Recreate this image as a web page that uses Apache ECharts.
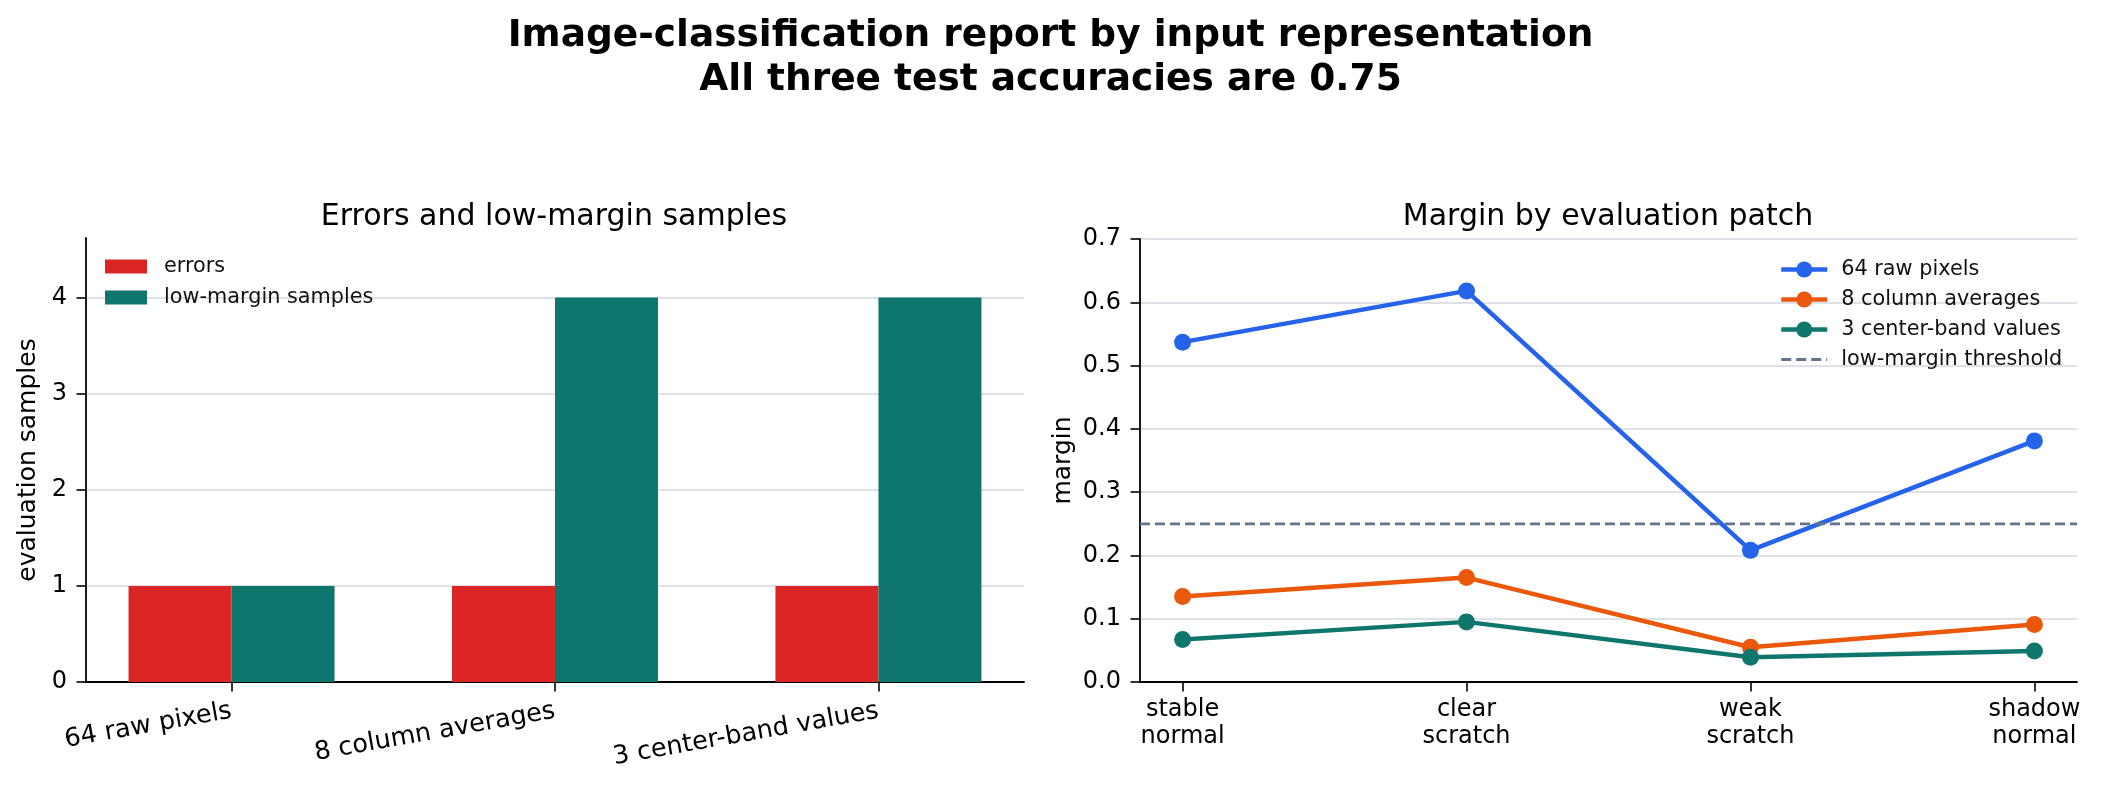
<!DOCTYPE html>
<html>
<head>
<meta charset="utf-8">
<script src="https://cdn.jsdelivr.net/npm/echarts@6/dist/echarts.min.js"></script>
<style>
  html, body { margin: 0; padding: 0; background: #fff; }
  #chart { width: 2101px; height: 787px; }
</style>
</head>
<body>
<div id="chart"></div>
<script>
var representations = ["64 raw pixels", "8 column averages", "3 center-band values"];
var errorCounts = [1, 1, 1];
var lowMarginCounts = [1, 4, 4];

var patches = ["stable\nnormal", "clear\nscratch", "weak\nscratch", "shadow\nnormal"];
var marginRaw = [0.537, 0.618, 0.208, 0.381];
var marginColumns = [0.135, 0.165, 0.055, 0.091];
var marginBand = [0.067, 0.095, 0.039, 0.049];
var threshold = 0.25;

var FONT = "DejaVu Sans";
var chart = echarts.init(document.getElementById("chart"), null, { renderer: "canvas" });

function pairs(values) {
    return values.map(function (v, i) { return [i, v]; });
}

var axisLineStyle = { color: "#000", width: 1.8 };
var tickStyle = { show: true, length: 9.5, lineStyle: { color: "#000", width: 1.6 } };
var gridLineStyle = { color: "#d3d8e0", width: 1.5 };
var tickFont = 24;

var option = {
    animation: false,
    backgroundColor: "#fff",
    title: [
        {
            text: "Image-classification report by input representation\nAll three test accuracies are 0.75",
            left: "center",
            top: 9,
            textStyle: { fontFamily: FONT, fontSize: 37.5, fontWeight: "bold", color: "#000", lineHeight: 44 },
        },
        {
            text: "Errors and low-margin samples",
            left: 549,
            textAlign: "center",
            top: 197,
            textStyle: { fontFamily: FONT, fontSize: 30, fontWeight: "normal", color: "#000", lineHeight: 30 },
        },
        {
            text: "Margin by evaluation patch",
            left: 1603,
            textAlign: "center",
            top: 197,
            textStyle: { fontFamily: FONT, fontSize: 30, fontWeight: "normal", color: "#000", lineHeight: 30 },
        },
    ],
    legend: [
        {
            data: ["errors", "low-margin samples"],
            left: 105,
            top: 256,
            padding: 0,
            orient: "vertical",
            icon: "rect",
            itemWidth: 42,
            itemHeight: 14,
            itemGap: 10,
            textStyle: { fontFamily: FONT, fontSize: 20.8, color: "#111", lineHeight: 14, padding: [0, 0, 0, 12] },
        },
        {
            data: [
                "64 raw pixels",
                "8 column averages",
                "3 center-band values",
                { name: "low-margin threshold", itemStyle: { opacity: 0 }, lineStyle: { width: 2.8 } },
            ],
            left: 1779,
            top: 259,
            padding: 0,
            orient: "vertical",
            itemWidth: 46,
            itemHeight: 20,
            itemGap: 9,
            lineStyle: { width: 4.5 },
            textStyle: { fontFamily: FONT, fontSize: 20.8, color: "#111", lineHeight: 20, padding: [0, 0, 0, 9] },
        },
    ],
    grid: [
        { left: 86, right: 1077, top: 238, bottom: 105 },
        { left: 1140, right: 24, top: 239, bottom: 105 },
    ],
    xAxis: [
        {
            gridIndex: 0,
            type: "value",
            min: -0.45,
            max: 2.45,
            axisLine: { show: true, onZero: false, lineStyle: axisLineStyle },
            axisTick: Object.assign({ customValues: [0, 1, 2] }, tickStyle),
            splitLine: { show: false },
            axisLabel: {
                customValues: [0, 1, 2],
                rotate: 10,
                margin: 29,
                fontFamily: FONT,
                fontSize: 25.5,
                color: "#000",
                formatter: function (v) { return representations[Math.round(v)]; },
            },
        },
        {
            gridIndex: 1,
            type: "value",
            min: -0.15,
            max: 3.15,
            axisLine: { show: true, onZero: false, lineStyle: axisLineStyle },
            axisTick: Object.assign({ customValues: [0, 1, 2, 3] }, tickStyle),
            splitLine: { show: false },
            axisLabel: {
                customValues: [0, 1, 2, 3],
                margin: 14,
                fontFamily: FONT,
                fontSize: tickFont,
                lineHeight: 27.5,
                color: "#000",
                formatter: function (v) { return patches[Math.round(v)]; },
            },
        },
    ],
    yAxis: [
        {
            gridIndex: 0,
            type: "value",
            min: 0,
            max: 4.62,
            name: "evaluation samples",
            nameLocation: "middle",
            nameGap: 45,
            nameTextStyle: { fontFamily: FONT, fontSize: 25, color: "#000" },
            axisLine: { show: true, onZero: false, lineStyle: axisLineStyle },
            axisTick: Object.assign({ customValues: [0, 1, 2, 3, 4] }, tickStyle),
            splitLine: { show: true, lineStyle: gridLineStyle },
            axisLabel: {
                customValues: [0, 1, 2, 3, 4],
                margin: 19,
                fontFamily: FONT,
                fontSize: tickFont,
                color: "#000",
            },
        },
        {
            gridIndex: 1,
            type: "value",
            min: 0,
            max: 0.7,
            interval: 0.1,
            name: "margin",
            nameLocation: "middle",
            nameGap: 64,
            nameTextStyle: { fontFamily: FONT, fontSize: 25, color: "#000" },
            axisLine: { show: true, onZero: false, lineStyle: axisLineStyle },
            axisTick: tickStyle,
            splitLine: { show: true, lineStyle: gridLineStyle },
            axisLabel: {
                margin: 19,
                fontFamily: FONT,
                fontSize: tickFont,
                color: "#000",
                formatter: function (v) { return v.toFixed(1); },
            },
        },
    ],
    series: [
        {
            name: "errors",
            type: "bar",
            xAxisIndex: 0,
            yAxisIndex: 0,
            data: pairs(errorCounts),
            barWidth: 103,
            barGap: "0%",
            itemStyle: { color: "#dc2626" },
        },
        {
            name: "low-margin samples",
            type: "bar",
            xAxisIndex: 0,
            yAxisIndex: 0,
            data: pairs(lowMarginCounts),
            barWidth: 103,
            barGap: "0%",
            itemStyle: { color: "#0f766e" },
        },
        {
            name: "64 raw pixels",
            type: "line",
            xAxisIndex: 1,
            yAxisIndex: 1,
            data: pairs(marginRaw),
            symbol: "circle",
            symbolSize: 17,
            lineStyle: { width: 4.5, color: "#2563eb" },
            itemStyle: { color: "#2563eb" },
        },
        {
            name: "8 column averages",
            type: "line",
            xAxisIndex: 1,
            yAxisIndex: 1,
            data: pairs(marginColumns),
            symbol: "circle",
            symbolSize: 17,
            lineStyle: { width: 4.5, color: "#ea580c" },
            itemStyle: { color: "#ea580c" },
        },
        {
            name: "3 center-band values",
            type: "line",
            xAxisIndex: 1,
            yAxisIndex: 1,
            data: pairs(marginBand),
            symbol: "circle",
            symbolSize: 17,
            lineStyle: { width: 4.5, color: "#0f766e" },
            itemStyle: { color: "#0f766e" },
        },
        {
            name: "low-margin threshold",
            type: "line",
            xAxisIndex: 1,
            yAxisIndex: 1,
            data: [[-0.15, threshold], [3.15, threshold]],
            symbol: "none",
            lineStyle: { width: 2.8, color: "#64748b", type: [10, 5] },
            itemStyle: { color: "#64748b" },
        },
    ],
};

chart.setOption(option);
</script>
</body>
</html>
